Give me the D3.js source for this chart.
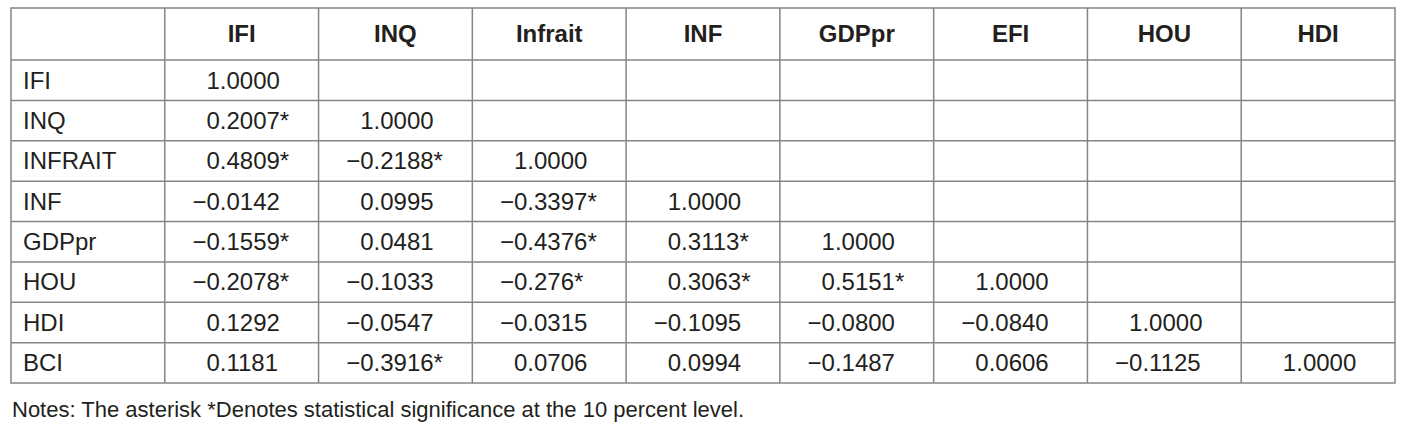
<!DOCTYPE html>
<html>
<head>
<meta charset="utf-8">
<script src="https://cdn.jsdelivr.net/npm/d3@7"></script>
<style>
  body { margin: 0; background: #fff; }
  svg { display: block; font-family: "Liberation Sans", Arial, sans-serif; }
</style>
</head>
<body>
<svg width="1415" height="430"></svg>
<script>
const colHeads = ["", "IFI", "INQ", "Infrait", "INF", "GDPpr", "EFI", "HOU", "HDI"];
const rowHeads = ["IFI", "INQ", "INFRAIT", "INF", "GDPpr", "HOU", "HDI", "BCI"];

// lower triangle, one array per row
const values = [
    ["1.0000"],
    ["0.2007*", "1.0000"],
    ["0.4809*", "\u22120.2188*", "1.0000"],
    ["\u22120.0142", "0.0995", "\u22120.3397*", "1.0000"],
    ["\u22120.1559*", "0.0481", "\u22120.4376*", "0.3113*", "1.0000"],
    ["\u22120.2078*", "\u22120.1033", "\u22120.276*", "0.3063*", "0.5151*", "1.0000"],
    ["0.1292", "\u22120.0547", "\u22120.0315", "\u22120.1095", "\u22120.0800", "\u22120.0840", "1.0000"],
    ["0.1181", "\u22120.3916*", "0.0706", "0.0994", "\u22120.1487", "0.0606", "\u22120.1125", "1.0000"]
];

const note = "Notes: The asterisk *Denotes statistical significance at the 10 percent level.";

const tblLeft = 11, tblRight = 1395;
const tblTop = 8, headBottom = 60, tblBottom = 383;
const lineColor = "#858585";
const textColor = "#231f20";
const fontSize = 24;
const decimalOffset = 55; // decimal point position inside a cell

const svg = d3.select("svg");

const xScale = d3.scaleBand()
    .domain(d3.range(colHeads.length))
    .range([tblLeft, tblRight]);

const yScale = d3.scaleBand()
    .domain(d3.range(rowHeads.length))
    .range([headBottom, tblBottom]);

// grid lines
const grid = svg.append("g")
    .attr("stroke", lineColor)
    .attr("stroke-width", 1.5)
    .attr("fill", "none");

grid.append("rect")
    .attr("x", tblLeft)
    .attr("y", tblTop)
    .attr("width", tblRight - tblLeft)
    .attr("height", tblBottom - tblTop);

grid.selectAll("line.v")
    .data(d3.range(1, colHeads.length))
    .join("line")
    .attr("class", "v")
    .attr("x1", d => xScale(d))
    .attr("x2", d => xScale(d))
    .attr("y1", tblTop)
    .attr("y2", tblBottom);

grid.selectAll("line.h")
    .data(d3.range(rowHeads.length))
    .join("line")
    .attr("class", "h")
    .attr("x1", tblLeft)
    .attr("x2", tblRight)
    .attr("y1", d => yScale(d))
    .attr("y2", d => yScale(d));

// header row
svg.append("g")
    .selectAll("text")
    .data(colHeads)
    .join("text")
    .attr("x", (d, i) => xScale(i) + xScale.bandwidth() / 2)
    .attr("y", (tblTop + headBottom) / 2)
    .attr("dy", "0.35em")
    .attr("text-anchor", "middle")
    .attr("font-weight", "bold")
    .attr("font-size", fontSize)
    .attr("fill", textColor)
    .text(d => d);

// row labels
svg.append("g")
    .selectAll("text")
    .data(rowHeads)
    .join("text")
    .attr("x", tblLeft + 12)
    .attr("y", (d, i) => yScale(i) + yScale.bandwidth() / 2)
    .attr("dy", "0.35em")
    .attr("font-size", fontSize)
    .attr("fill", textColor)
    .text(d => d);

// cells, aligned on the decimal point
const cells = [];
values.forEach((row, r) => {
    row.forEach((v, c) => {
        const k = v.indexOf(".");
        cells.push({ r: r, c: c + 1, a: v.slice(0, k), b: v.slice(k) });
    });
});

const cellG = svg.append("g")
    .attr("font-size", fontSize)
    .attr("fill", textColor);

cellG.selectAll("text.int")
    .data(cells)
    .join("text")
    .attr("class", "int")
    .attr("x", d => xScale(d.c) + decimalOffset)
    .attr("y", d => yScale(d.r) + yScale.bandwidth() / 2)
    .attr("dy", "0.35em")
    .attr("text-anchor", "end")
    .text(d => d.a);

cellG.selectAll("text.frac")
    .data(cells)
    .join("text")
    .attr("class", "frac")
    .attr("x", d => xScale(d.c) + decimalOffset)
    .attr("y", d => yScale(d.r) + yScale.bandwidth() / 2)
    .attr("dy", "0.35em")
    .text(d => d.b);

svg.append("text")
    .attr("x", tblLeft + 1)
    .attr("y", 417)
    .attr("font-size", 22)
    .attr("fill", textColor)
    .text(note);
</script>
</body>
</html>
